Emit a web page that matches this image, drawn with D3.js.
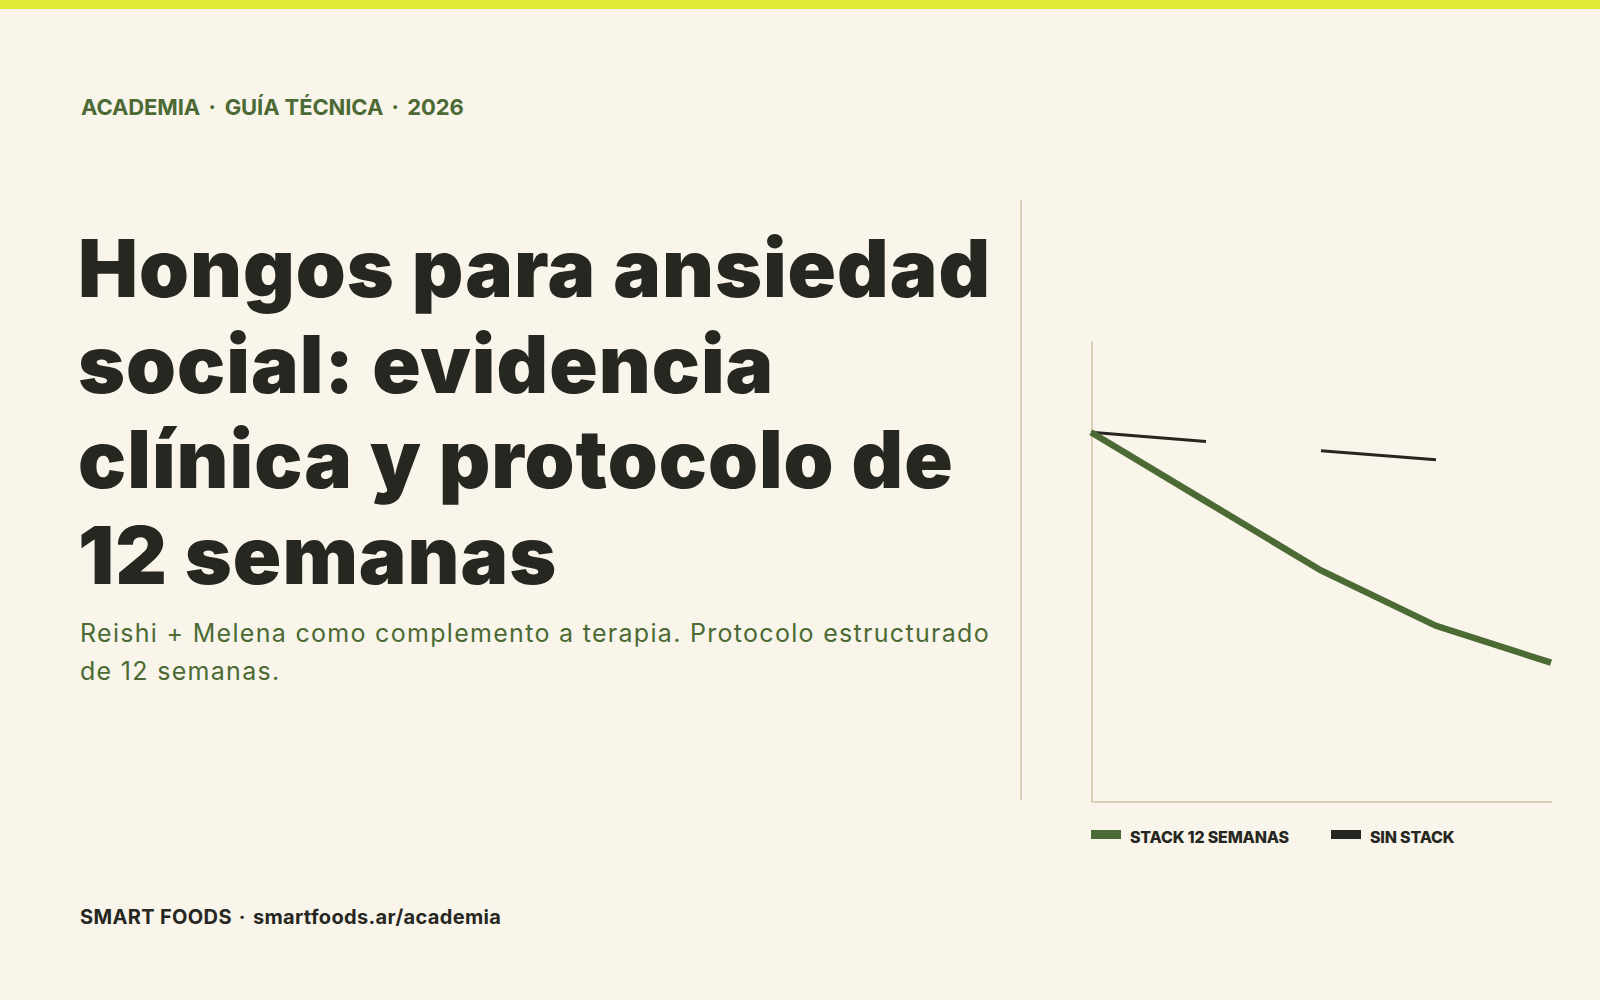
<!DOCTYPE html>
<html>
<head>
  <meta charset="utf-8">
  <title>Hongos para ansiedad social</title>
  <script src="https://cdn.jsdelivr.net/npm/d3@7/dist/d3.min.js"></script>
  <style>
    html, body {
      margin: 0;
      padding: 0;
      background: #f9f5eb;
    }
    svg {
      display: block;
    }
    .axis path {
      stroke: #d9cfb4;
      stroke-width: 2px;
      shape-rendering: crispEdges;
    }
  </style>
</head>
<body>
  <div id="chart"></div>

  <script>
    // datos del grafico (semana -> puntaje de ansiedad)
    const weeks = [0, 3, 6, 9, 12];
    const stackValues = [80, 65, 50, 38, 30];
    const noStackValues = [80, 78, 76, 74, 72];
    const seriesLabels = ['STACK 12 SEMANAS', 'SIN STACK'];

    const eyebrowParts = ['ACADEMIA', 'GUÍA TÉCNICA', '2026'];
    const titleLines = ['Hongos para ansiedad', 'social: evidencia', 'clínica y protocolo de', '12 semanas'];
    const subtitleLines = ['Reishi + Melena como complemento a terapia. Protocolo estructurado', 'de 12 semanas.'];
    const footerParts = ['SMART FOODS', 'smartfoods.ar/academia'];

    const width = 1600;
    const height = 1000;
    const green = '#4b6a34';
    const dark = '#262721';

    const svg = d3.select('#chart')
      .append('svg')
      .attr('width', width)
      .attr('height', height);

    svg.append('rect')
      .attr('width', width)
      .attr('height', height)
      .attr('fill', '#f9f5eb');

    // barra superior
    svg.append('rect')
      .attr('width', width)
      .attr('height', 9)
      .attr('fill', '#e2ea3a');

    // eyebrow
    const eyebrow = svg.append('text')
      .attr('x', 81)
      .attr('y', 115)
      .attr('font-family', 'Inter, sans-serif')
      .attr('font-weight', 700)
      .attr('font-size', 22)
      .attr('letter-spacing', -0.1)
      .attr('fill', green);
    eyebrowParts.forEach((p, i) => {
      if (i > 0) eyebrow.append('tspan').attr('dx', 9).text('·');
      eyebrow.append('tspan').attr('dx', i > 0 ? 9 : 0).text(p);
    });

    // titulo
    svg.append('g')
      .selectAll('text')
      .data(titleLines)
      .join('text')
      .attr('x', 78)
      .attr('y', (d, i) => 297 + i * 95.5)
      .attr('font-family', 'Inter, sans-serif')
      .attr('font-weight', 900)
      .attr('font-size', 80)
      .attr('letter-spacing', 1)
      .attr('fill', dark)
      .text(d => d);

    // subtitulo
    svg.append('g')
      .selectAll('text')
      .data(subtitleLines)
      .join('text')
      .attr('x', 80)
      .attr('y', (d, i) => 642 + i * 38)
      .attr('font-family', 'Inter, sans-serif')
      .attr('font-weight', 400)
      .attr('font-size', 25)
      .attr('letter-spacing', 1.3)
      .attr('fill', green)
      .text(d => d);

    // pie
    const footer = svg.append('text')
      .attr('x', 80)
      .attr('y', 924)
      .attr('font-family', 'Inter, sans-serif')
      .attr('font-weight', 700)
      .attr('font-size', 20)
      .attr('letter-spacing', 0.35)
      .attr('fill', dark);
    footerParts.forEach((p, i) => {
      if (i > 0) footer.append('tspan').attr('dx', 7).text('·');
      footer.append('tspan').attr('dx', i > 0 ? 7 : 0).text(p);
    });

    // separador vertical
    svg.append('line')
      .attr('x1', 1021)
      .attr('x2', 1021)
      .attr('y1', 200)
      .attr('y2', 800)
      .attr('stroke', '#d9cfb4')
      .attr('stroke-width', 2);

    // grafico
    const xScale = d3.scaleLinear()
      .domain([0, 12])
      .range([1091, 1551]);

    const yScale = d3.scaleLinear()
      .domain([0, 100])
      .range([801, 340]);

    svg.append('g')
      .attr('class', 'axis')
      .attr('transform', `translate(${xScale(0)},0)`)
      .call(d3.axisLeft(yScale).ticks(0).tickSizeOuter(0));

    svg.append('g')
      .attr('class', 'axis')
      .attr('transform', `translate(0,${yScale(0)})`)
      .call(d3.axisBottom(xScale).ticks(0).tickSizeOuter(0));

    const line = d3.line()
      .x((d, i) => xScale(weeks[i]))
      .y(d => yScale(d));

    const noStackPath = svg.append('path')
      .datum(noStackValues)
      .attr('d', line)
      .attr('fill', 'none')
      .attr('stroke', dark)
      .attr('stroke-width', 3);
    // guiones largos: cuatro tramos, uno por intervalo
    const len = noStackPath.node().getTotalLength();
    noStackPath.attr('stroke-dasharray', `${len / 4} ${len / 4}`);

    svg.append('path')
      .datum(stackValues)
      .attr('d', line)
      .attr('fill', 'none')
      .attr('stroke', green)
      .attr('stroke-width', 6.5);

    // leyenda
    const legendX = [1091, 1331];
    const legendColors = [green, dark];
    const legend = svg.append('g')
      .selectAll('g')
      .data(seriesLabels)
      .join('g')
      .attr('transform', (d, i) => `translate(${legendX[i]},830)`);

    legend.append('rect')
      .attr('width', 30)
      .attr('height', 9)
      .attr('fill', (d, i) => legendColors[i]);

    legend.append('text')
      .attr('x', 39)
      .attr('y', 12.5)
      .attr('font-family', 'Inter, sans-serif')
      .attr('font-weight', 800)
      .attr('font-size', 16)
      .attr('letter-spacing', -0.2)
      .attr('fill', dark)
      .text(d => d);
  </script>
</body>
</html>
